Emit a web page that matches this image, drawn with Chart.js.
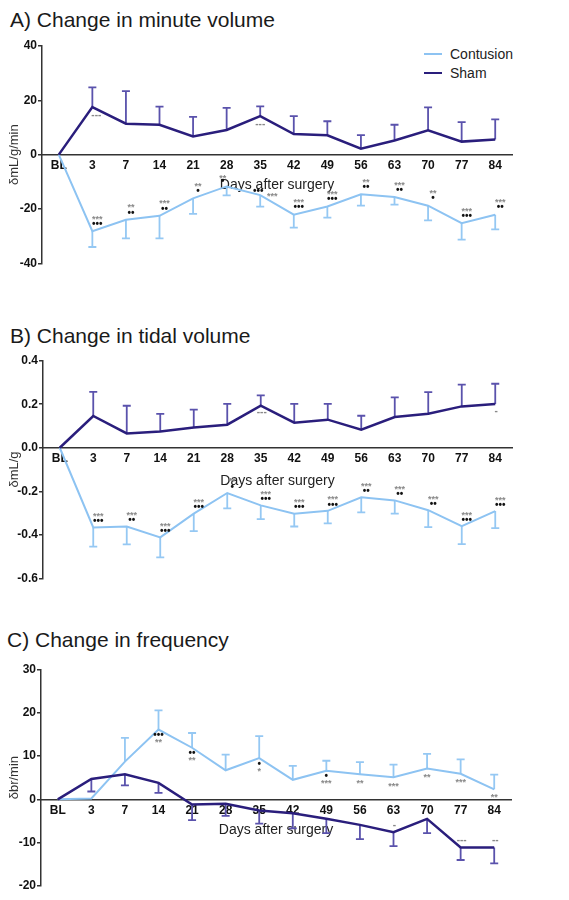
<!DOCTYPE html>
<html><head><meta charset="utf-8">
<script src="https://cdn.jsdelivr.net/npm/chart.js@4/dist/chart.umd.min.js"></script>
<style>
html,body{margin:0;padding:0;background:#fff}
body{width:569px;height:900px;position:relative;overflow:hidden;font-family:"Liberation Sans",Arial,sans-serif}
canvas{position:absolute;left:0}
.title{position:absolute;font-size:21px;line-height:24px;color:#1a1a1a;white-space:nowrap}
.leg{position:absolute;font-size:14px;line-height:16px;color:#222;white-space:nowrap}
.leg span{display:inline-block;width:18px;height:0;vertical-align:middle;margin-right:8px;position:relative;top:-1px}
</style></head>
<body>
<div class="title" style="left:10px;top:8px">A) Change in minute volume</div>
<div class="title" style="left:10px;top:324px">B) Change in tidal volume</div>
<div class="title" style="left:7px;top:628px">C) Change in frequency</div>
<div class="leg" style="left:424px;top:46px"><span style="border-top:2px solid #8DC3F2"></span>Contusion</div>
<div class="leg" style="left:424px;top:65px"><span style="border-top:2.5px solid #2A1E7C"></span>Sham</div>
<canvas id="cA" width="569" height="290" style="top:0px"></canvas>
<canvas id="cB" width="569" height="300" style="top:290px"></canvas>
<canvas id="cC" width="569" height="310" style="top:590px"></canvas>
<script>
// ---------- data ----------
const days = ['BL','3','7','14','21','28','35','42','49','56','63','70','77','84'];
const seriesNames = ['Contusion','Sham'];

// A) minute volume (δmL/g/min)
const yTicksA = [-40,-20,0,20,40];
const contA    = [0,-28.2,-24.0,-22.5,-16.1,-11.7,-14.9,-22.1,-19.1,-14.6,-15.6,-18.8,-25.2,-22.1];
const contAErr = [0,5.8,6.8,8.3,5.7,3.3,4.2,4.8,4.1,4.2,2.8,5.4,6.1,5.4];
const shamA    = [0,17.5,11.4,11.0,6.7,9.1,14.2,7.6,7.1,2.2,5.2,9.0,4.8,5.6];
const shamAErr = [0,7.3,12.0,6.7,7.2,8.1,3.6,6.6,5.2,5.0,5.8,8.4,7.2,7.4];
const contAStars = ['','***','**','***','**','**','***','***','***','**','***','**','***','***'];
const contADots  = ['','•••','••','••','•','•','•••','•••','•••','••','••','•','•••','••'];
const shamAMarks = ['','---','','','','','---','','','','','','',''];

// B) tidal volume (δmL/g)
const yTicksB = [-0.6,-0.4,-0.2,0,0.2,0.4];
const contB    = [0,-0.366,-0.362,-0.412,-0.303,-0.208,-0.265,-0.303,-0.290,-0.228,-0.242,-0.287,-0.360,-0.291];
const contBErr = [0,0.088,0.082,0.092,0.080,0.071,0.063,0.059,0.058,0.069,0.061,0.078,0.083,0.078];
const shamB    = [0,0.146,0.066,0.075,0.093,0.106,0.193,0.115,0.129,0.083,0.141,0.156,0.190,0.201];
const shamBErr = [0,0.111,0.127,0.081,0.082,0.096,0.048,0.087,0.073,0.064,0.090,0.100,0.100,0.093];
const contBStars = ['','***','***','***','***','**','***','***','***','***','***','***','***','***'];
const contBDots  = ['','•••','••','•••','•••','•','•••','•••','•••','••','••','••','•••','•••'];
const shamBMarks = ['','','','','','','---','','','','','','','-'];

// C) frequency (δbr/min)
const yTicksC = [-20,-10,0,10,20,30];
const contC    = [0,0.2,8.7,16.1,11.9,6.7,9.5,4.5,6.6,5.8,5.1,7.1,5.9,2.3];
const contCErr = [0,0,5.5,4.4,3.4,3.6,5.1,3.2,2.3,2.8,2.9,3.4,3.3,3.4];
const shamC    = [0,4.7,5.8,3.8,-1.2,-1.0,-2.6,-3.2,-4.5,-5.9,-7.6,-4.5,-11.1,-11.1];
const shamCErr = [0,2.9,2.6,2.3,3.6,2.8,3.0,3.5,3.3,3.3,3.2,3.3,2.9,3.7];
const contCDots  = ['','','','•••','••','','•','','•','','','','',''];
const contCStars = ['','','','**','**','','*','','***','**','***','**','***','**'];
const shamCMarks = ['','','','','','','','','','','-','','---','--'];

// ---------- drawing ----------
const FONT = '"Liberation Sans", Arial, sans-serif';
const C_CONT = '#8DC3F2', C_SHAM = '#2A1E7C', C_SHAM_ERR = '#5A52AC', C_CONT_ERR = '#95C8F3';

const errorBarPlugin = {
  id: 'errbars',
  beforeDatasetsDraw(chart) {
    const ctx = chart.ctx, ys = chart.scales.y;
    chart.data.datasets.forEach((ds, di) => {
      if (!ds.errors) return;
      const meta = chart.getDatasetMeta(di);
      ctx.save();
      ctx.strokeStyle = ds.errorColor; ctx.lineWidth = 1.8;
      meta.data.forEach((pt, i) => {
        const e = ds.errors[i]; if (!e) return;
        const yEnd = ys.getPixelForValue(ds.data[i] + ds.errorDir * e);
        ctx.beginPath();
        ctx.moveTo(pt.x, pt.y); ctx.lineTo(pt.x, yEnd);
        ctx.moveTo(pt.x - 4, yEnd); ctx.lineTo(pt.x + 4, yEnd);
        ctx.stroke();
      });
      ctx.restore();
    });
  }
};

function marksPlugin(items) {
  return {
    id: 'marks',
    afterDatasetsDraw(chart) {
      const ctx = chart.ctx;
      items.forEach(it => {
        const meta = chart.getDatasetMeta(it.dataset);
        it.texts.forEach((t, i) => {
          if (!t) return;
          const pt = meta.data[i];
          const o = (it.override && it.override[i]) || {};
          ctx.save();
          ctx.font = it.font; ctx.fillStyle = it.color;
          ctx.textAlign = 'center'; ctx.textBaseline = 'middle';
          ctx.fillText(t, pt.x + (o.dx ?? it.dx), pt.y + (o.dy ?? it.dy));
          ctx.restore();
        });
      });
    }
  };
}

const STAR_FONT = 'bold 9px ' + FONT, DOT_FONT = 'bold 10px ' + FONT, DASH_FONT = 'bold 10px ' + FONT;

function makePanel(id, cfg) {
  const h = document.getElementById(id).height;
  return new Chart(document.getElementById(id), {
    type: 'line',
    data: {
      labels: days,
      datasets: [
        { label: seriesNames[0], data: cfg.cont, errors: cfg.contErr, errorDir: cfg.contDir, errorColor: C_CONT_ERR,
          borderColor: C_CONT, borderWidth: 2, pointRadius: 0, tension: 0, fill: false, order: 2 },
        { label: seriesNames[1], data: cfg.sham, errors: cfg.shamErr, errorDir: cfg.shamDir, errorColor: C_SHAM_ERR,
          borderColor: C_SHAM, borderWidth: 2.5, pointRadius: 0, tension: 0, fill: false, order: 1 }
      ]
    },
    options: {
      responsive: false, animation: false, devicePixelRatio: 1,
      layout: { padding: { left: 0, right: 569 - cfg.area.right, top: cfg.area.top, bottom: h - cfg.area.bottom } },
      plugins: { legend: { display: false }, tooltip: { enabled: false } },
      scales: {
        x: {
          type: 'category', offset: true, position: { y: 0 },
          grid: { display: false, drawTicks: false },
          border: { display: true, color: '#333', width: 1.5 },
          ticks: { font: { family: FONT, size: 12, weight: 'bold' }, color: '#111', padding: 4, maxRotation: 0, autoSkip: false },
          title: { display: true, text: 'Days after surgery', font: { family: FONT, size: 14 }, color: '#222', padding: { top: cfg.xTitlePad, bottom: 0 } }
        },
        y: {
          min: cfg.yTicks[0], max: cfg.yTicks[cfg.yTicks.length - 1],
          afterFit(s) { s.width = cfg.area.left; },
          afterBuildTicks(s) { s.ticks = cfg.yTicks.map(v => ({ value: v })); },
          grid: { display: true, drawOnChartArea: false, drawTicks: true, tickLength: 4, color: '#333', lineWidth: 1.5 },
          border: { display: true, color: '#333', width: 1.5 },
          ticks: { font: { family: FONT, size: 12, weight: 'bold' }, color: '#111', padding: 1,
                   callback: v => cfg.fmt(v) },
          title: { display: true, text: cfg.yTitle, font: { family: FONT, size: 13 }, color: '#333', padding: { top: 7, bottom: 0 } }
        }
      }
    },
    plugins: [errorBarPlugin, marksPlugin(cfg.marks)]
  });
}

makePanel('cA', {
  cont: contA, contErr: contAErr, contDir: -1, sham: shamA, shamErr: shamAErr, shamDir: 1,
  yTicks: yTicksA, fmt: v => String(v), yTitle: 'δmL/g/min', xTitlePad: 0,
  area: { left: 42, right: 512, top: 46, bottom: 263.3 },
  marks: [
    { dataset: 0, texts: contAStars, font: STAR_FONT, color: '#888', dx: 5, dy: -12, override: { 5: { dx: -4, dy: -8 }, 6: { dx: 12, dy: 1 } } },
    { dataset: 0, texts: contADots, font: DOT_FONT, color: '#111', dx: 5, dy: -7, override: { 5: { dx: -4, dy: -5 }, 6: { dx: -2, dy: -4 } } },
    { dataset: 1, texts: shamAMarks, font: DASH_FONT, color: '#888', dx: 4, dy: 8, override: { 6: { dx: 0 } } }
  ]
});

makePanel('cB', {
  cont: contB, contErr: contBErr, contDir: -1, sham: shamB, shamErr: shamBErr, shamDir: 1,
  yTicks: yTicksB, fmt: v => v.toFixed(1), yTitle: 'δmL/g', xTitlePad: 3,
  area: { left: 43, right: 512, top: 70.7, bottom: 288.3 },
  marks: [
    { dataset: 0, texts: contBStars, font: STAR_FONT, color: '#888', dx: 5, dy: -11 },
    { dataset: 0, texts: contBDots, font: DOT_FONT, color: '#111', dx: 5, dy: -6 },
    { dataset: 1, texts: shamBMarks, font: DASH_FONT, color: '#888', dx: 1, dy: 7 }
  ]
});

makePanel('cC', {
  cont: contC, contErr: contCErr, contDir: 1, sham: shamC, shamErr: shamCErr, shamDir: -1,
  yTicks: yTicksC, fmt: v => String(v), yTitle: 'δbr/min', xTitlePad: 0,
  area: { left: 41, right: 511, top: 79.3, bottom: 296 },
  marks: [
    { dataset: 0, texts: contCDots, font: DOT_FONT, color: '#111', dx: 0, dy: 6 },
    { dataset: 0, texts: contCStars, font: STAR_FONT, color: '#888', dx: 0, dy: 13, override: { 9: { dy: 9 }, 10: { dy: 9 }, 11: { dy: 9 }, 12: { dy: 9 }, 13: { dy: 8 } } },
    { dataset: 1, texts: shamCMarks, font: DASH_FONT, color: '#888', dx: 1, dy: -7 }
  ]
});
</script>
</body></html>
